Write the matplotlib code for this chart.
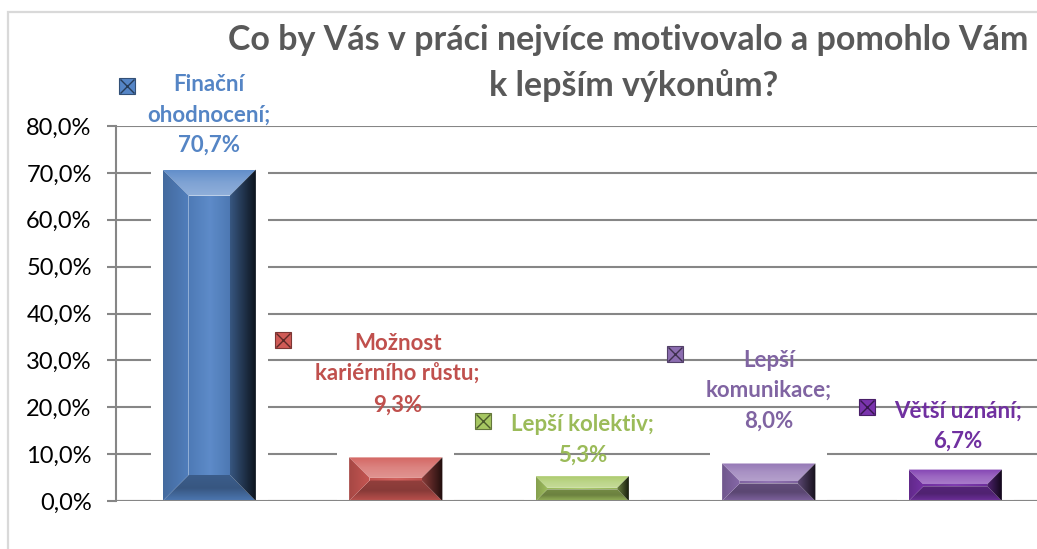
#!/usr/bin/env python3
import numpy as np
import matplotlib
matplotlib.use('Agg')
import matplotlib.pyplot as plt
from matplotlib.patches import Polygon, Rectangle
from matplotlib.colors import to_rgb

# data
categories = ['Finační\nohodnocení', 'Možnost\nkariérního růstu', 'Lepší kolektiv',
              'Lepší\nkomunikace', 'Větší uznání']
values = [70.7, 9.3, 5.3, 8.0, 6.7]
bar_colors = ['#5585c6', '#d05a56', '#a6c762', '#8c6db0', '#7a34ad']
text_colors = ['#5585c5', '#c0504d', '#9bbb59', '#8064a2', '#7030a0']
yticks = [0, 10, 20, 30, 40, 50, 60, 70, 80]
ytick_labels = ['0,0%', '10,0%', '20,0%', '30,0%', '40,0%', '50,0%', '60,0%', '70,0%', '80,0%']
title_lines = ['Co by Vás v práci nejvíce motivovalo a pomohlo Vám', 'k lepším výkonům?']

# label/key placement (moved by hand in the original)
label_pos = [(0.0, 82.3), (1.01, 27.0), (2.0, 13.1), (3.0, 23.6), (4.015, 16.0)]
key_pos = [(-0.441, 88.5), (0.395, 34.3), (1.468, 17.1), (2.497, 31.4), (3.527, 20.1)]

W, H = 1037, 549
ax_l, ax_b, ax_w, ax_h = 116, 48, 932.5, 375
FONT = 'Lato'


def mix(c, other, t):
    c = np.array(to_rgb(c))
    return tuple(c * (1 - t) + np.array(other) * t)


def light(c, t):
    return mix(c, (1, 1, 1), t)


def dark(c, t):
    return mix(c, (0, 0, 0), t)


def gradient(ax, pts, stops, vertical, z):
    poly = Polygon(pts, closed=True, fc='none', ec='none', transform=ax.transData)
    ax.add_patch(poly)
    n = 64
    pos = np.linspace(0, 1, len(stops))
    t = np.linspace(0, 1, n)
    arr = np.stack([np.interp(t, pos, [s[k] for s in stops]) for k in range(3)], axis=-1)
    arr = arr[:, None, :] if vertical else arr[None, :, :]
    xs = [p[0] for p in pts]
    ys = [p[1] for p in pts]
    im = ax.imshow(arr, extent=(min(xs), max(xs), min(ys), max(ys)), origin='lower',
                   aspect='auto', interpolation='bilinear', zorder=z)
    im.set_clip_path(poly)


def bevel_bar(ax, x, h, color, width=0.5):
    px_x = ax_w / 5.0
    px_y = ax_h / 80.0
    h_px = h * px_y
    b = min(26, 0.47 * h_px)
    bx, by = b / px_x, b / px_y
    x0, x1 = x - width / 2, x + width / 2
    # white halo behind the bar
    pad_x, pad_y = 12 / px_x, 12 / px_y
    ax.add_patch(Rectangle((x0 - pad_x, 0.3), width + 2 * pad_x, h + pad_y - 0.3,
                           fc='white', ec='none', zorder=1))
    # body
    gradient(ax, [(x0 + bx, by), (x1 - bx, by), (x1 - bx, h - by), (x0 + bx, h - by)],
             [dark(color, 0.08), light(color, 0.05), dark(color, 0.1)], False, 2)
    # top
    gradient(ax, [(x0, h), (x1, h), (x1 - bx, h - by), (x0 + bx, h - by)],
             [light(color, 0.35), light(color, 0.25), light(color, 0.08)], True, 2)
    # bottom
    gradient(ax, [(x0, 0), (x1, 0), (x1 - bx, by), (x0 + bx, by)],
             [dark(color, 0.1), dark(color, 0.35), dark(color, 0.3)], True, 2)
    # left
    gradient(ax, [(x0, 0), (x0 + bx, by), (x0 + bx, h - by), (x0, h)],
             [dark(color, 0.2), dark(color, 0.05)], False, 2.1)
    # right
    gradient(ax, [(x1, 0), (x1 - bx, by), (x1 - bx, h - by), (x1, h)],
             [dark(color, 0.35), dark(color, 0.85)], False, 2.1)


def bevel_key(ax, x, y, color):
    ax.plot([x], [y], marker='s', ms=11, mfc=color, mec=dark(color, 0.4), mew=0.8,
            clip_on=False, zorder=5)
    ax.plot([x], [y], marker='x', ms=9.5, mec=dark(color, 0.55), mew=1.0,
            clip_on=False, zorder=6)


def plot_chart():
    fig = plt.figure(figsize=(W / 100, H / 100), dpi=100)
    fig.patch.set_facecolor('white')
    fig.patches.append(Rectangle((8 / W, -0.1), 1.2, 1.1 - 12 / H, transform=fig.transFigure,
                                 fill=False, ec='#d9d9d9', lw=1.6))
    ax = fig.add_axes([ax_l / W, ax_b / H, ax_w / W, ax_h / H])
    ax.set_facecolor('none')

    x = np.arange(len(values))
    bars = ax.bar(x, values, width=0.5, color='none', zorder=2)
    for rect, v, c in zip(bars, values, bar_colors):
        bevel_bar(ax, rect.get_x() + rect.get_width() / 2, v, c)

    for i, (cat, v) in enumerate(zip(categories, values)):
        lx, ly = label_pos[i]
        txt = '%s;\n%s%%' % (cat, ('%.1f' % v).replace('.', ','))
        ax.text(lx, ly, txt, ha='center', va='center', color=text_colors[i],
                fontsize=16, fontweight='bold', family=FONT, linespacing=1.55,
                zorder=6, clip_on=False)
        kx, ky = key_pos[i]
        bevel_key(ax, kx, ky, bar_colors[i])

    ax.set_xlim(-0.5, 4.5)
    ax.set_ylim(0, 80)
    ax.set_yticks(yticks)
    ax.set_yticklabels(ytick_labels, family=FONT, fontsize=17)
    ax.set_xticks([])
    ax.yaxis.grid(True, color='#868686', lw=1.5)
    ax.set_axisbelow(True)
    ax.tick_params(axis='y', direction='out', length=6.5, width=1.5, color='#868686', pad=11)
    for s in ['top', 'right', 'bottom']:
        ax.spines[s].set_visible(False)
    ax.spines['left'].set_color('#868686')
    ax.spines['left'].set_linewidth(1.5)
    ax.axhline(0, color='#868686', lw=1.5, zorder=3)

    fig.text(628 / W, 1 - 50 / H, title_lines[0], ha='center', va='baseline',
             fontsize=24.5, fontweight='bold', color='#595959', family=FONT)
    fig.text(634 / W, 1 - 96 / H, title_lines[1], ha='center', va='baseline',
             fontsize=24.5, fontweight='bold', color='#595959', family=FONT)

    fig.savefig('out.png', dpi=100)


if __name__ == '__main__':
    plot_chart()
